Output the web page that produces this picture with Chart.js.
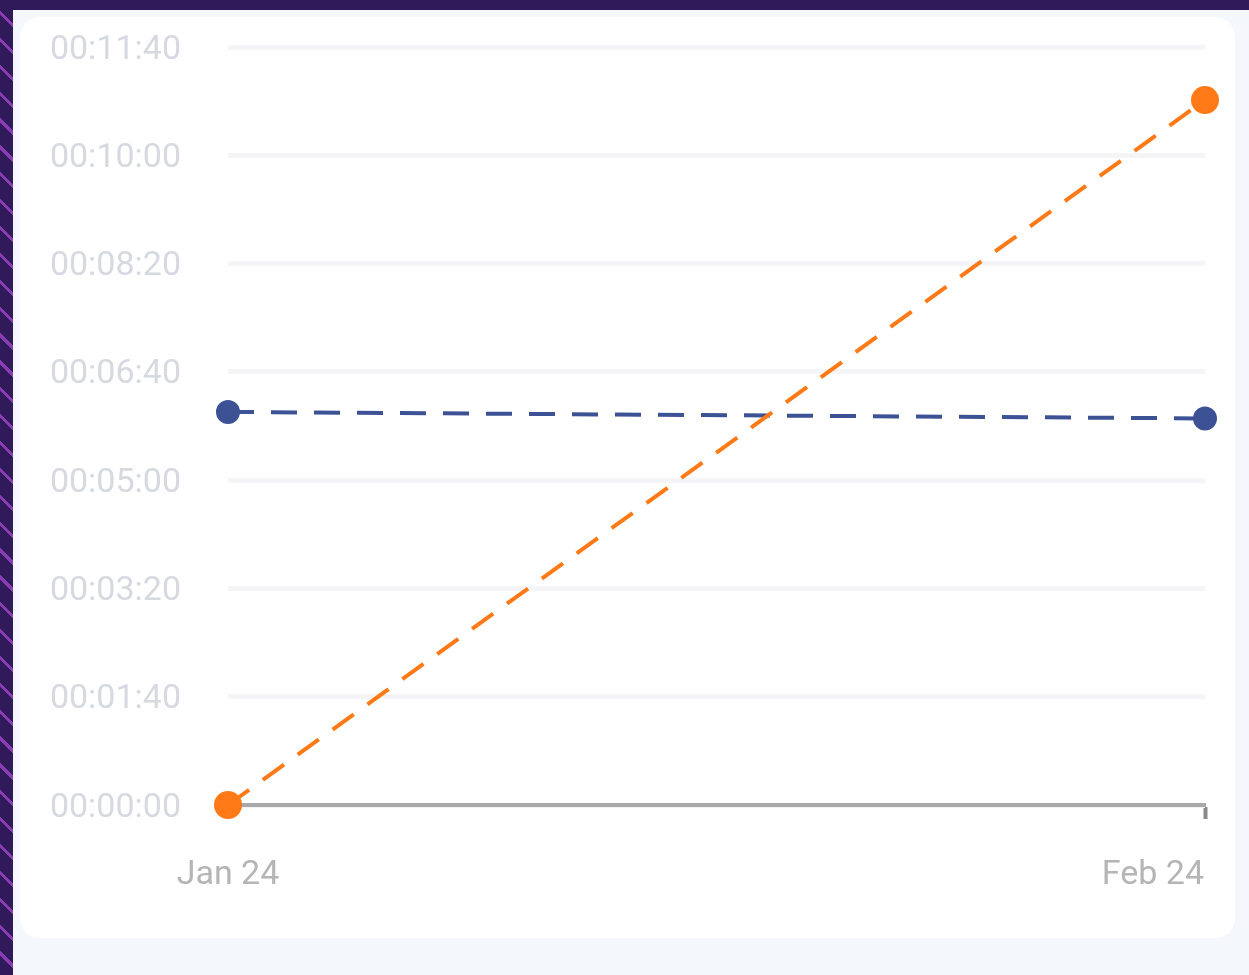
<!DOCTYPE html>
<html>
<head>
<meta charset="utf-8">
<script src="https://cdn.jsdelivr.net/npm/chart.js@4/dist/chart.umd.min.js"></script>
<style>
    html, body { margin: 0; padding: 0; }
    body { width: 1249px; height: 975px; background: #f4f7fc; position: relative; overflow: hidden; font-family: Roboto, sans-serif; }
    .top-band { position: absolute; left: 0; top: 0; width: 1249px; height: 10px; background: #311a5a; }
    .side-band {
        position: absolute; left: 0; top: 0; width: 13px; height: 975px;
        background: repeating-linear-gradient(45deg, #311a5a 0px, #311a5a 14px, #8a3cb4 14px, #8a3cb4 17px, #311a5a 17px, #311a5a 19px);
    }
    .card { position: absolute; left: 20px; top: 17px; width: 1215px; height: 921px; background: #ffffff; border-radius: 20px; }
</style>
</head>
<body>
<div class="top-band"></div>
<div class="side-band"></div>
<div class="card">
    <canvas id="durationChart"></canvas>
</div>

<script>
// Values (seconds)
const months = ["Jan 24", "Feb 24"];
const orangeSeconds = [0, 651];
const blueSeconds = [363, 357];

const yMax = 700;
const yStep = 100;

function pad2(n) {
    return String(n).padStart(2, "0");
}

function toClock(sec) {
    let m = Math.floor(sec / 60);
    let s = Math.round(sec % 60);
    return "00:" + pad2(m) + ":" + pad2(s);
}

const ctx = document.getElementById("durationChart");

new Chart(ctx, {
    type: "line",
    data: {
        labels: months,
        datasets: [
            {
                label: "Current",
                data: orangeSeconds,
                borderColor: "#ff7a17",
                backgroundColor: "#ff7a17",
                borderWidth: 4,
                borderDash: [26, 17],
                pointRadius: 14,
                pointBorderWidth: 0,
                tension: 0,
                clip: false
            },
            {
                label: "Previous",
                data: blueSeconds,
                borderColor: "#3d5295",
                backgroundColor: "#3d5295",
                borderWidth: 4,
                borderDash: [26, 17],
                pointRadius: 12,
                pointBorderWidth: 0,
                tension: 0,
                clip: false
            }
        ]
    },
    options: {
        responsive: true,
        maintainAspectRatio: false,
        animation: false,
        layout: {
            autoPadding: false,
            padding: { top: 30, right: 30, bottom: 0, left: 0 }
        },
        plugins: {
            legend: { display: false },
            title: { display: false },
            tooltip: { enabled: false }
        },
        scales: {
            x: {
                offset: false,
                afterFit: (scale) => {
                    scale.height = 133;
                    scale.paddingLeft = 0;
                    scale.paddingRight = 0;
                },
                border: { display: true, color: "#a9a9a9", width: 4 },
                grid: {
                    drawOnChartArea: false,
                    drawTicks: true,
                    tickLength: 14,
                    tickWidth: 4,
                    tickColor: (c) => c.index === months.length - 1 ? "#8a8a8a" : "rgba(0,0,0,0)"
                },
                ticks: {
                    color: "#b5b5b5",
                    padding: 36,
                    maxRotation: 0,
                    autoSkip: false,
                    font: { family: "Roboto", size: 34 },
                    // last label sits flush with the right edge, like the original
                    callback: function (val, i) {
                        let txt = this.getLabelForValue(val);
                        return i === months.length - 1 ? txt + "\u2003\u2003\u2003" : txt;
                    }
                }
            },
            y: {
                min: 0,
                max: yMax,
                afterFit: (scale) => {
                    scale.width = 208;
                    scale.paddingTop = 0;
                    scale.paddingBottom = 0;
                },
                border: { display: false },
                grid: {
                    color: "#f5f5f7",
                    lineWidth: 5,
                    drawTicks: false
                },
                ticks: {
                    stepSize: yStep,
                    color: "#d6dae0",
                    padding: 47,
                    labelOffset: 3,
                    font: { family: "Roboto", size: 34 },
                    callback: (v) => toClock(v)
                }
            }
        }
    }
});
</script>
</body>
</html>
